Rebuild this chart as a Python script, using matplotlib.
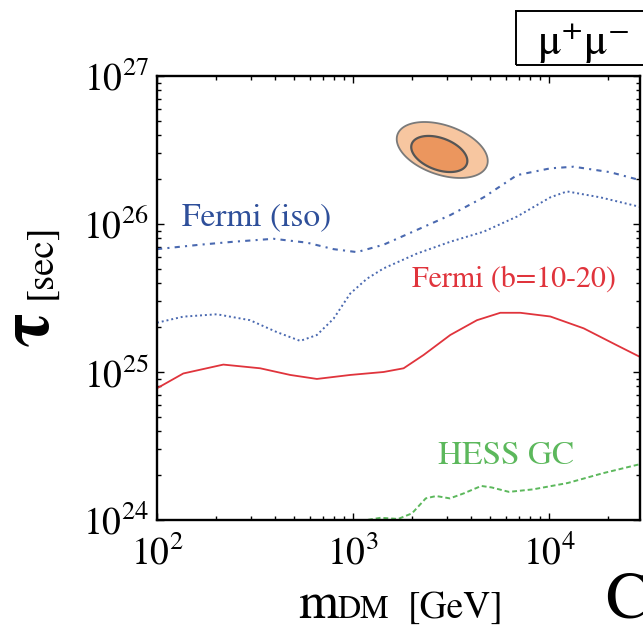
import numpy as np
import matplotlib.pyplot as plt
from matplotlib.patches import Rectangle
from matplotlib.ticker import NullFormatter

# values, log10 of mass [GeV] and log10 of lifetime [s]
iso_upper_logm = [2.0, 2.219, 2.39, 2.594, 2.764, 2.90, 3.019, 3.155, 3.325, 3.495,
                  3.665, 3.835, 4.005, 4.124, 4.31, 4.48]
iso_upper_logtau = [25.83, 25.86, 25.88, 25.90, 25.874, 25.83, 25.81, 25.86, 25.96, 26.06,
                    26.18, 26.33, 26.376, 26.387, 26.35, 26.29]

iso_lower_logm = [2.0, 2.134, 2.305, 2.474, 2.61, 2.73, 2.815, 2.90, 2.985, 3.07,
                  3.155, 3.325, 3.495, 3.665, 3.835, 4.005, 4.09, 4.26, 4.48]
iso_lower_logtau = [25.333, 25.374, 25.39, 25.35, 25.27, 25.21, 25.25, 25.36, 25.53, 25.63,
                    25.70, 25.80, 25.88, 25.948, 26.05, 26.18, 26.22, 26.18, 26.11]

fermi_b_logm = [2.0, 2.134, 2.338, 2.526, 2.679, 2.815, 2.985, 3.155, 3.257, 3.359,
                3.495, 3.631, 3.75, 3.852, 4.005, 4.175, 4.345, 4.48]
fermi_b_logtau = [24.89, 24.99, 25.05, 25.025, 24.98, 24.953, 24.98, 25.00, 25.025, 25.115,
                  25.25, 25.35, 25.40, 25.40, 25.375, 25.295, 25.18, 25.09]

hess_logm = [3.0, 3.07, 3.14, 3.229, 3.30, 3.37, 3.423, 3.493, 3.564, 3.653,
             3.706, 3.794, 3.917, 4.094, 4.27, 4.48]
hess_logtau = [23.97, 24.0, 24.015, 24.007, 24.045, 24.146, 24.162, 24.146, 24.18, 24.23,
               24.22, 24.19, 24.207, 24.25, 24.315, 24.383]

# best-fit region contours: centre, x radius, y radius, tilt (all in decades)
outer_region = (3.454, 26.50, 0.232, 0.174, -0.074)
inner_region = (3.439, 26.473, 0.143, 0.1125, -0.047)

blue = '#4a69b0'
red = '#e0343c'
green = '#5cb85c'

plt.rcParams['font.family'] = ['STIXGeneral', 'DejaVu Serif']
plt.rcParams['mathtext.fontset'] = 'stix'


def region(params):
    cx, cy, rx, ry, s = params
    t = np.linspace(0, 2 * np.pi, 200)
    return 10 ** (cx + rx * np.cos(t)), 10 ** (cy + ry * np.sin(t) + s * np.cos(t))


def main():
    fig = plt.figure(figsize=(6.43, 6.29), dpi=100)
    ax = fig.add_axes([0.2442, 0.1733, 0.7512, 0.7059])
    ax.set_xscale('log')
    ax.set_yscale('log')

    ax.plot(10 ** np.array(iso_upper_logm), 10 ** np.array(iso_upper_logtau),
            color=blue, lw=1.5, dashes=(2.5, 2.5, 1, 2.5))
    ax.plot(10 ** np.array(iso_lower_logm), 10 ** np.array(iso_lower_logtau),
            color=blue, lw=1.4, dashes=(1, 1.5))
    ax.plot(10 ** np.array(fermi_b_logm), 10 ** np.array(fermi_b_logtau),
            color=red, lw=1.3)
    ax.plot(10 ** np.array(hess_logm), 10 ** np.array(hess_logtau),
            color=green, lw=1.4, dashes=(2.5, 1.5))

    ox, oy = region(outer_region)
    ax.fill(ox, oy, facecolor='#f7c6a0', edgecolor='#7a7a7a', lw=1.3)
    ix, iy = region(inner_region)
    ax.fill(ix, iy, facecolor='#eb965e', edgecolor='#555555', lw=1.6)

    ax.set_xlim(1e2, 2.9e4)
    ax.set_ylim(1e24, 1e27)

    for sp in ax.spines.values():
        sp.set_linewidth(1.7)
    ax.tick_params(which='both', direction='in', top=True, right=True, width=1.0)
    ax.tick_params(which='major', length=5, labelsize=27)
    ax.tick_params(axis='x', which='major', pad=11)
    ax.tick_params(axis='y', which='major', pad=6)
    ax.tick_params(which='minor', length=3)
    ax.xaxis.set_minor_formatter(NullFormatter())
    ax.yaxis.set_minor_formatter(NullFormatter())

    ax.text(10 ** 2.128, 10 ** 25.99, 'Fermi (iso)', color='#2e4f9a', fontsize=24)
    ax.text(10 ** 3.3, 10 ** 25.58, 'Fermi (b=10-20)', color=red, fontsize=21.5)
    ax.text(10 ** 3.43, 10 ** 24.38, 'HESS GC', color=green, fontsize=24)

    # axis labels
    fig.text(298 / 643, 1 - 618 / 629, 'm', fontsize=37, va='baseline')
    fig.text(337 / 643, 1 - 618 / 629, 'DM', fontsize=23, va='baseline')
    fig.text(408 / 643, 1 - 618 / 629, '[GeV]', fontsize=27, va='baseline')
    fig.text(41 / 643, 1 - 261 / 629, '[sec]', fontsize=28, rotation=90,
             ha='center', va='center')
    fig.text(31 / 643, 1 - 328 / 629, 'τ', fontsize=52, fontweight='bold',
             rotation=90, ha='center', va='center')

    # channel box
    fig.add_artist(Rectangle((516 / 643, 1 - 65 / 629), 0.3, 54 / 629,
                             transform=fig.transFigure, fill=False,
                             edgecolor='black', lw=1.4))
    fig.text(584 / 643, 1 - 43 / 629, 'μ⁺μ⁻', fontsize=32, ha='center', va='center')

    fig.text(605 / 643, 1 - 617 / 629, 'C', fontsize=47, va='baseline')

    plt.savefig('out.png', dpi=100)


if __name__ == '__main__':
    main()
